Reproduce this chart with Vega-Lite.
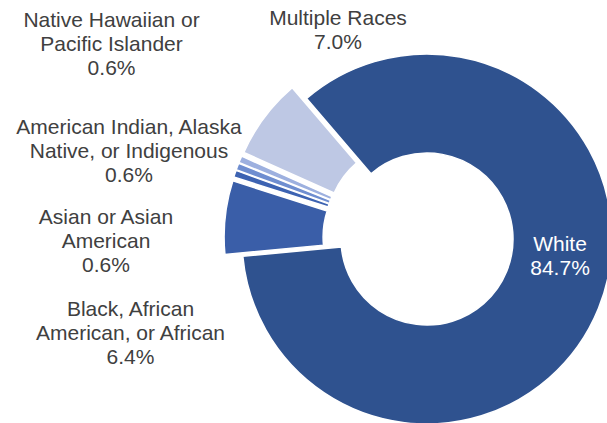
{
  "$schema": "https://vega.github.io/schema/vega-lite/v6.json",
  "width": 360,
  "height": 368,
  "autosize": "none",
  "padding": {"left": 247, "top": 55, "right": 0, "bottom": 0},
  "background": "white",
  "config": {"view": {"stroke": null}, "text": {"font": "Liberation Sans"}},
  "data": {"values": [
    {"idx": 1, "race": "White", "label": "White", "pct": 84.7},
    {"idx": 2, "race": "Black, African American, or African", "label": "Black, African\nAmerican, or African", "pct": 6.4},
    {"idx": 3, "race": "Asian or Asian American", "label": "Asian or Asian\nAmerican", "pct": 0.6},
    {"idx": 4, "race": "American Indian, Alaska Native, or Indigenous", "label": "American Indian, Alaska\nNative, or Indigenous", "pct": 0.6},
    {"idx": 5, "race": "Native Hawaiian or Pacific Islander", "label": "Native Hawaiian or\nPacific Islander", "pct": 0.6},
    {"idx": 6, "race": "Multiple Races", "label": "Multiple Races", "pct": 7.0}
  ]},
  "transform": [
    {"stack": "pct", "groupby": [], "sort": [{"field": "idx", "order": "ascending"}], "as": ["v0", "v1"]},
    {"calculate": "(datum.v0 + datum.v1) / 2", "as": "mid"},
    {"calculate": "datum.label + '\\n' + format(datum.pct, '.1f') + '%'", "as": "txt"}
  ],
  "encoding": {
    "color": {
      "field": "race", "type": "nominal", "legend": null,
      "scale": {
        "domain": ["White", "Black, African American, or African", "Asian or Asian American", "American Indian, Alaska Native, or Indigenous", "Native Hawaiian or Pacific Islander", "Multiple Races"],
        "range": ["#2F528F", "#3A5EA8", "#3D63B2", "#6F8ED0", "#9DB0DF", "#BEC8E4"]
      }
    }
  },
  "layer": [
    {
      "transform": [{"filter": "datum.race === 'White'"}],
      "mark": {"type": "arc", "innerRadius": 86, "outerRadius": 185, "stroke": "white", "strokeWidth": 1.5},
      "encoding": {
        "theta": {"field": "v0", "type": "quantitative", "stack": null, "scale": {"domain": [0, 99.9], "range": [-0.7086, 5.5746]}},
        "theta2": {"field": "v1"}
      }
    },
    {
      "transform": [{"filter": "datum.idx === 2"}],
      "mark": {"type": "arc", "innerRadius": 86, "outerRadius": 185, "stroke": "white", "strokeWidth": 1.5, "xOffset": -17.9, "yOffset": -1.9},
      "encoding": {
        "theta": {"field": "v0", "type": "quantitative", "stack": null, "scale": {"domain": [0, 99.9], "range": [-0.7086, 5.5746]}},
        "theta2": {"field": "v1"}
      }
    },
    {
      "transform": [{"filter": "datum.idx === 3"}],
      "mark": {"type": "arc", "innerRadius": 86, "outerRadius": 185, "stroke": "white", "strokeWidth": 1.5, "xOffset": -17.0, "yOffset": -5.8},
      "encoding": {
        "theta": {"field": "v0", "type": "quantitative", "stack": null, "scale": {"domain": [0, 99.9], "range": [-0.7086, 5.5746]}},
        "theta2": {"field": "v1"}
      }
    },
    {
      "transform": [{"filter": "datum.idx === 4"}],
      "mark": {"type": "arc", "innerRadius": 86, "outerRadius": 185, "stroke": "white", "strokeWidth": 1.5, "xOffset": -16.8, "yOffset": -6.4},
      "encoding": {
        "theta": {"field": "v0", "type": "quantitative", "stack": null, "scale": {"domain": [0, 99.9], "range": [-0.7086, 5.5746]}},
        "theta2": {"field": "v1"}
      }
    },
    {
      "transform": [{"filter": "datum.idx === 5"}],
      "mark": {"type": "arc", "innerRadius": 86, "outerRadius": 185, "stroke": "white", "strokeWidth": 1.5, "xOffset": -16.6, "yOffset": -7.1},
      "encoding": {
        "theta": {"field": "v0", "type": "quantitative", "stack": null, "scale": {"domain": [0, 99.9], "range": [-0.7086, 5.5746]}},
        "theta2": {"field": "v1"}
      }
    },
    {
      "transform": [{"filter": "datum.idx === 6"}],
      "mark": {"type": "arc", "innerRadius": 86, "outerRadius": 185, "stroke": "white", "strokeWidth": 1.5, "xOffset": -14.4, "yOffset": -10.8},
      "encoding": {
        "theta": {"field": "v0", "type": "quantitative", "stack": null, "scale": {"domain": [0, 99.9], "range": [-0.7086, 5.5746]}},
        "theta2": {"field": "v1"}
      }
    },
    {
      "transform": [{"filter": "datum.idx === 1"}],
      "mark": {"type": "text", "radius": 134, "dx": 8.8, "dy": -44.5, "fontSize": 21, "lineBreak": "\n", "lineHeight": 24, "align": "center", "baseline": "middle", "color": "white"},
      "encoding": {
        "theta": {"field": "mid", "type": "quantitative", "stack": null, "scale": {"domain": [0, 99.9], "range": [-0.7086, 5.5746]}},
        "text": {"field": "txt"},
        "color": {"value": "white"}
      }
    },
    {
      "transform": [{"filter": "datum.idx === 2"}],
      "mark": {"type": "text", "radius": 311, "dx": 12.7, "dy": 104.4, "fontSize": 21, "lineBreak": "\n", "lineHeight": 24, "align": "center", "baseline": "middle"},
      "encoding": {
        "theta": {"field": "mid", "type": "quantitative", "stack": null, "scale": {"domain": [0, 99.9], "range": [-0.7086, 5.5746]}},
        "text": {"field": "txt"},
        "color": {"value": "#404040"}
      }
    },
    {
      "transform": [{"filter": "datum.idx === 3"}],
      "mark": {"type": "text", "radius": 321, "dx": -17.1, "dy": 81.8, "fontSize": 21, "lineBreak": "\n", "lineHeight": 24, "align": "center", "baseline": "middle"},
      "encoding": {
        "theta": {"field": "mid", "type": "quantitative", "stack": null, "scale": {"domain": [0, 99.9], "range": [-0.7086, 5.5746]}},
        "text": {"field": "txt"},
        "color": {"value": "#404040"}
      }
    },
    {
      "transform": [{"filter": "datum.idx === 4"}],
      "mark": {"type": "text", "radius": 310, "dx": -8.5, "dy": -0.3, "fontSize": 21, "lineBreak": "\n", "lineHeight": 24, "align": "center", "baseline": "middle"},
      "encoding": {
        "theta": {"field": "mid", "type": "quantitative", "stack": null, "scale": {"domain": [0, 99.9], "range": [-0.7086, 5.5746]}},
        "text": {"field": "txt"},
        "color": {"value": "#404040"}
      }
    },
    {
      "transform": [{"filter": "datum.idx === 5"}],
      "mark": {"type": "text", "radius": 370, "dx": 24.9, "dy": -72.4, "fontSize": 21, "lineBreak": "\n", "lineHeight": 24, "align": "center", "baseline": "middle"},
      "encoding": {
        "theta": {"field": "mid", "type": "quantitative", "stack": null, "scale": {"domain": [0, 99.9], "range": [-0.7086, 5.5746]}},
        "text": {"field": "txt"},
        "color": {"value": "#404040"}
      }
    },
    {
      "transform": [{"filter": "datum.idx === 6"}],
      "mark": {"type": "text", "radius": 226, "dx": 92, "dy": -84.7, "fontSize": 21, "lineBreak": "\n", "lineHeight": 24, "align": "center", "baseline": "middle"},
      "encoding": {
        "theta": {"field": "mid", "type": "quantitative", "stack": null, "scale": {"domain": [0, 99.9], "range": [-0.7086, 5.5746]}},
        "text": {"field": "txt"},
        "color": {"value": "#404040"}
      }
    }
  ]
}
